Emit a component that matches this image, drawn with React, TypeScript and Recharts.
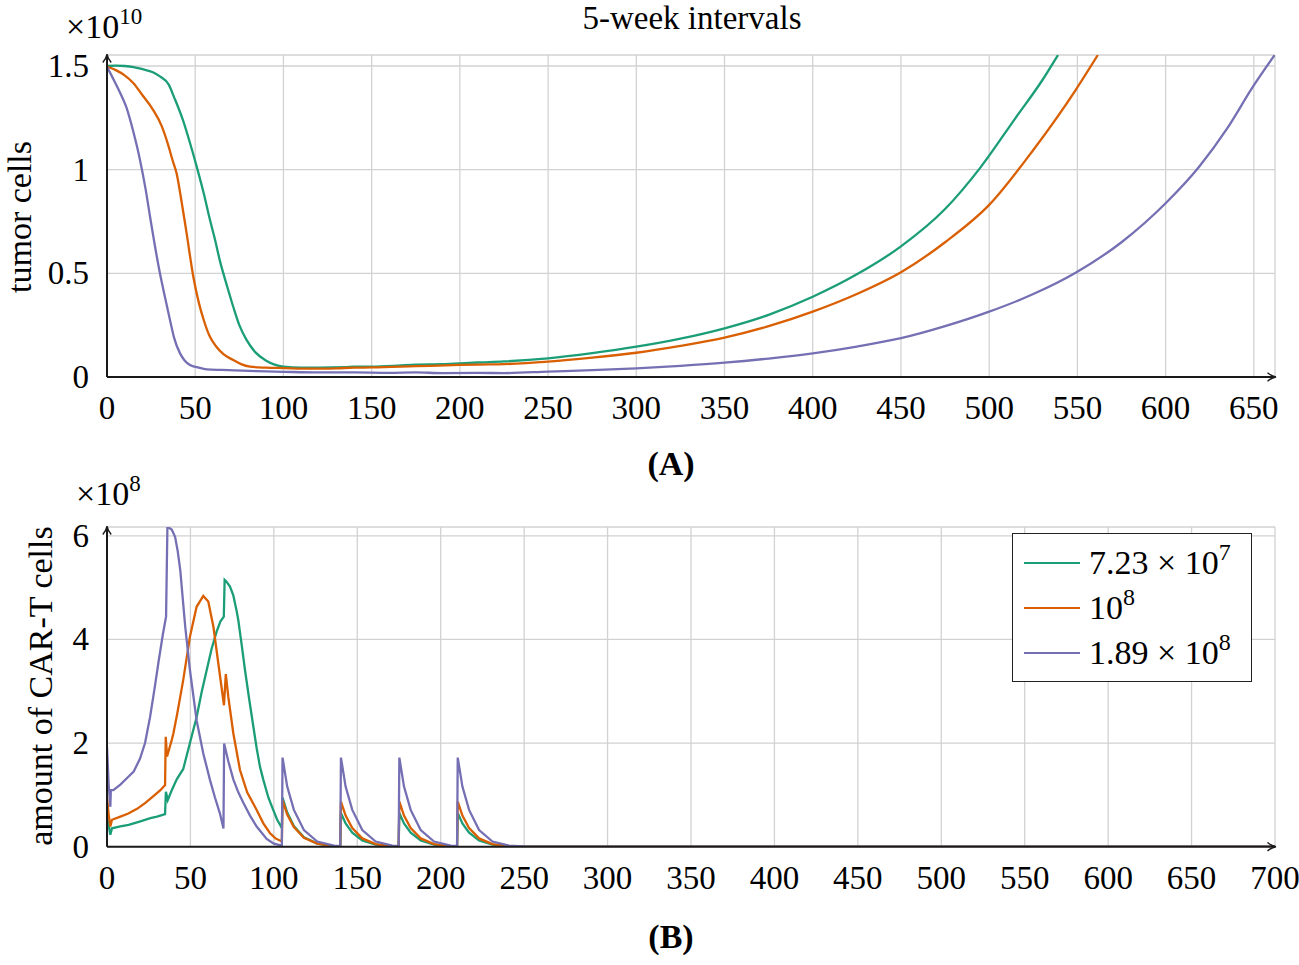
import { LineChart, Line, XAxis, YAxis, CartesianGrid, Legend } from 'recharts'

// panel A: tumor cells (units of 1e10), panel B: CAR-T cells (units of 1e8)
// every series is a list of [day, value] pairs

const tumorLowDose: [number, number][] = [
  [0, 1.5], [5, 1.502], [10, 1.5], [15, 1.495], [20, 1.485], [26, 1.47], [30, 1.45], [35, 1.41],
  [38, 1.35], [43, 1.24], [47, 1.13], [51, 1.01], [55, 0.88], [58, 0.77], [61, 0.67], [64, 0.56],
  [68, 0.44], [71.5, 0.34], [75, 0.25], [79, 0.18], [84, 0.12], [90, 0.08], [95, 0.06], [100, 0.05],
  [110, 0.045], [120, 0.045], [135, 0.047], [140, 0.05], [150, 0.05], [165, 0.055], [175, 0.06],
  [190, 0.062], [200, 0.066], [210, 0.07], [225, 0.075], [250, 0.09], [275, 0.115], [300, 0.146],
  [325, 0.185], [350, 0.235], [375, 0.3], [400, 0.387], [425, 0.495], [450, 0.63], [475, 0.81],
  [495, 1.01], [515, 1.25], [530, 1.43], [539, 1.553],
]

const tumorMidDose: [number, number][] = [
  [0, 1.497], [5, 1.48], [10, 1.455], [15, 1.417], [20, 1.36], [26, 1.29], [31, 1.21], [35, 1.11],
  [37, 1.05], [39.5, 0.98], [42, 0.86], [45, 0.7], [49, 0.48], [52, 0.36], [55, 0.27], [58, 0.2],
  [62, 0.146], [66, 0.11], [71.5, 0.082], [76, 0.062], [81, 0.05], [90, 0.045], [100, 0.043],
  [115, 0.04], [130, 0.042], [140, 0.045], [150, 0.046], [175, 0.052], [200, 0.058], [210, 0.06],
  [225, 0.062], [250, 0.074], [275, 0.093], [300, 0.117], [325, 0.15], [350, 0.19], [375, 0.245],
  [400, 0.315], [425, 0.4], [450, 0.505], [475, 0.65], [500, 0.83], [525, 1.095], [549, 1.384],
  [561.6, 1.553],
]

const tumorHighDose: [number, number][] = [
  [0, 1.497], [4, 1.43], [8, 1.36], [11, 1.3], [15, 1.18], [18.7, 1.047], [22, 0.9], [24.4, 0.773],
  [27, 0.64], [30, 0.5], [33, 0.38], [35.7, 0.275], [38, 0.19], [41.4, 0.114], [44, 0.08], [47, 0.058],
  [52, 0.045], [56.5, 0.037], [65, 0.034], [72, 0.032], [85, 0.028], [100, 0.025], [120, 0.022],
  [140, 0.022], [160, 0.02], [175, 0.022], [190, 0.019], [210, 0.02], [225, 0.019], [250, 0.026],
  [275, 0.033], [300, 0.042], [325, 0.054], [350, 0.069], [375, 0.089], [400, 0.114], [425, 0.147],
  [450, 0.187], [475, 0.245], [500, 0.315], [525, 0.4], [549, 0.503], [575, 0.65], [600, 0.838],
  [619, 1.014], [635, 1.2], [649.5, 1.4], [661.8, 1.553],
]

const carLowDose: [number, number][] = [
  [0, 0.58], [1, 0.42], [2, 0.23], [3, 0.355], [8, 0.39], [13, 0.42], [20, 0.49], [26, 0.55],
  [30, 0.58], [34.8, 0.63], [35.3, 1.06], [36.4, 0.9], [38.8, 1.09], [41.8, 1.3], [45.7, 1.5],
  [49.7, 2.0], [53.7, 2.5], [56.7, 2.98], [59.7, 3.4], [62.7, 3.82], [65.7, 4.15], [68, 4.35],
  [70, 4.44], [70.5, 5.15], [71.5, 5.12], [73.7, 5.02], [75.7, 4.85], [77.7, 4.55], [78.7, 4.37],
  [80.7, 3.9], [82.7, 3.41], [85.2, 2.85], [87.7, 2.32], [89.7, 1.9], [91.7, 1.54], [93.7, 1.29],
  [96.7, 0.95], [99.6, 0.71], [102, 0.52], [104.8, 0.36], [105.2, 0.95], [108, 0.66], [112, 0.4],
  [118, 0.18], [126, 0.06], [135, 0.012], [139.8, 0.005], [140.2, 0.65], [143, 0.45], [147, 0.27],
  [153, 0.12], [161, 0.04], [170, 0.01], [174.8, 0.005], [175.2, 0.65], [178, 0.45], [182, 0.27],
  [188, 0.12], [196, 0.04], [205, 0.01], [209.8, 0.005], [210.2, 0.65], [213, 0.45], [217, 0.27],
  [223, 0.12], [231, 0.04], [240, 0.01], [250, 0.002], [300, 0], [700, 0],
]

const carMidDose: [number, number][] = [
  [0, 0.96], [1, 0.62], [2, 0.39], [3, 0.52], [8, 0.58], [12.8, 0.64], [18, 0.73], [22.8, 0.84],
  [28, 0.98], [32, 1.09], [34.8, 1.19], [35.2, 2.12], [36, 1.74], [38.8, 2.06], [39.8, 2.19],
  [42, 2.55], [45.7, 3.22], [49.7, 4.05], [53.7, 4.63], [57.7, 4.84], [60.7, 4.73], [63.8, 4.24],
  [66.7, 3.54], [70.1, 2.73], [71.2, 3.33], [72.7, 2.89], [75.7, 2.19], [79.7, 1.48], [84, 1.05],
  [89.7, 0.71], [93.7, 0.45], [97.7, 0.26], [101, 0.16], [104.8, 0.1], [105.2, 0.9], [108, 0.62],
  [112, 0.38], [118, 0.17], [126, 0.06], [135, 0.015], [139.8, 0.008], [140.2, 0.87], [143, 0.6],
  [147, 0.36], [153, 0.16], [161, 0.05], [170, 0.013], [174.8, 0.008], [175.2, 0.87], [178, 0.6],
  [182, 0.36], [188, 0.16], [196, 0.05], [205, 0.013], [209.8, 0.008], [210.2, 0.87], [213, 0.6],
  [217, 0.36], [223, 0.16], [231, 0.05], [240, 0.013], [250, 0.003], [300, 0], [700, 0],
]

const carHighDose: [number, number][] = [
  [0, 1.93], [1, 1.2], [2, 0.77], [2.3, 1.09], [3.8, 1.09], [8, 1.2], [12.8, 1.35], [16, 1.45],
  [19.8, 1.7], [22.8, 2.0], [25.8, 2.5], [28.5, 3.05], [30.8, 3.55], [33.5, 4.1], [35.4, 4.44],
  [36.2, 6.17], [38.8, 6.12], [40.8, 5.98], [42.4, 5.7], [43.9, 5.34], [46.9, 4.24], [49.7, 3.41],
  [53.7, 2.44], [57.7, 1.8], [61.7, 1.29], [64.7, 0.95], [67.7, 0.64], [69.8, 0.35], [70.2, 1.99],
  [72.7, 1.65], [75.7, 1.3], [78.7, 1.05], [81.7, 0.85], [85.7, 0.6], [89.7, 0.39], [95.7, 0.15],
  [100, 0.06], [104.8, 0.02], [105.2, 1.72], [108, 1.16], [112, 0.71], [118, 0.32], [126, 0.1],
  [136, 0.02], [139.8, 0.01], [140.2, 1.72], [143, 1.16], [147, 0.71], [153, 0.32], [161, 0.1],
  [171, 0.02], [174.8, 0.01], [175.2, 1.72], [178, 1.16], [182, 0.71], [188, 0.32], [196, 0.1],
  [206, 0.02], [209.8, 0.01], [210.2, 1.72], [213, 1.16], [217, 0.71], [223, 0.32], [231, 0.1],
  [241, 0.02], [250, 0.005], [300, 0], [700, 0],
]

const tumorTicksX = [0, 50, 100, 150, 200, 250, 300, 350, 400, 450, 500, 550, 600, 650]
const tumorTicksY = [0, 0.5, 1, 1.5]
const carTicksX = [0, 50, 100, 150, 200, 250, 300, 350, 400, 450, 500, 550, 600, 650, 700]
const carTicksY = [0, 2, 4, 6]

// legend entries, keyed by series name
const doseLabels: Record<string, { base: string; exp: string }> = {
  dose1: { base: '7.23 × 10', exp: '7' },
  dose2: { base: '10', exp: '8' },
  dose3: { base: '1.89 × 10', exp: '8' },
}
const doseOrder = ['dose1', 'dose2', 'dose3']

const GREEN = '#1b9e77'
const ORANGE = '#d95f02'
const PURPLE = '#7570b3'
const FONT = '"Liberation Serif", "Times New Roman", serif'

const toPoints = (arr: [number, number][]) => arr.map(([x, y]) => ({ x, y }))

const axisLineX = { stroke: '#1a1a1a', strokeWidth: 2, markerEnd: 'url(#axisArrow)' }
const axisLineY = { stroke: '#1a1a1a', strokeWidth: 2, markerStart: 'url(#axisArrow)' }

const XTick = ({ x, y, payload }: any) => (
  <text x={x} y={y} dy={23} textAnchor="middle" fontSize={33} fontFamily={FONT} fill="#000">
    {payload.value}
  </text>
)

const YTick = ({ x, y, payload }: any) => (
  <text x={x} y={y} dy={11} textAnchor="end" fontSize={33} fontFamily={FONT} fill="#000">
    {payload.value}
  </text>
)

const DoseLegend = ({ payload }: any) => {
  const entries = doseOrder
    .map((name) => (payload || []).find((p: any) => p.value === name))
    .filter(Boolean)
  return (
    <div
      style={{
        width: 240,
        height: 149,
        boxSizing: 'border-box',
        border: '1.5px solid #222',
        background: '#fff',
        paddingTop: 6,
        fontFamily: FONT,
      }}
    >
      {entries.map((entry: any) => (
        <div key={entry.value} style={{ height: 45, display: 'flex', alignItems: 'center', fontSize: 34, lineHeight: 1 }}>
          <div style={{ width: 56, borderTop: `2.5px solid ${entry.color}`, marginLeft: 11, marginRight: 9 }} />
          <span>
            {doseLabels[entry.value].base}
            <span style={{ fontSize: 24, position: 'relative', top: -14 }}>{doseLabels[entry.value].exp}</span>
          </span>
        </div>
      ))}
    </div>
  )
}

export default function App() {
  return (
    <div
      style={{
        position: 'absolute',
        left: 0,
        top: 0,
        width: 1299,
        height: 965,
        background: '#fff',
        fontFamily: FONT,
      }}
    >
      <svg width={0} height={0} style={{ position: 'absolute' }}>
        <defs>
          <marker
            id="axisArrow"
            viewBox="0 0 10 10"
            refX={8}
            refY={5}
            markerWidth={10}
            markerHeight={10}
            markerUnits="userSpaceOnUse"
            orient="auto-start-reverse"
          >
            <path d="M0.5,0.8 Q4.5,4.2 9,5 Q4.5,5.8 0.5,9.2" fill="none" stroke="#1a1a1a" strokeWidth={1.4} />
          </marker>
        </defs>
      </svg>

      <div style={{ position: 'absolute', left: 0, top: 0 }}>
        <LineChart width={1299} height={480} margin={{ top: 55, right: 24, bottom: 63, left: 47 }}>
          <CartesianGrid stroke="#d2d2d2" strokeWidth={1.3} />
          <XAxis
            type="number"
            dataKey="x"
            domain={[0, 662]}
            ticks={tumorTicksX}
            allowDataOverflow
            interval={0}
            height={40}
            tickLine={false}
            tickSize={0}
            tickMargin={19}
            axisLine={axisLineX}
            tick={<XTick />}
          />
          <YAxis
            type="number"
            domain={[0, 1.553]}
            ticks={tumorTicksY}
            allowDataOverflow
            interval={0}
            width={60}
            tickLine={false}
            tickSize={0}
            tickMargin={18}
            axisLine={axisLineY}
            tick={<YTick />}
          />
          <Line type="monotone" data={toPoints(tumorLowDose)} dataKey="y" stroke={GREEN} strokeWidth={2.3} dot={false} isAnimationActive={false} />
          <Line type="monotone" data={toPoints(tumorMidDose)} dataKey="y" stroke={ORANGE} strokeWidth={2.3} dot={false} isAnimationActive={false} />
          <Line type="monotone" data={toPoints(tumorHighDose)} dataKey="y" stroke={PURPLE} strokeWidth={2.3} dot={false} isAnimationActive={false} />
        </LineChart>
      </div>

      <div style={{ position: 'absolute', left: 0, top: 480 }}>
        <LineChart width={1299} height={485} margin={{ top: 47, right: 24, bottom: 78.3, left: 47 }}>
          <CartesianGrid stroke="#d2d2d2" strokeWidth={1.3} />
          <XAxis
            type="number"
            dataKey="x"
            domain={[0, 700]}
            ticks={carTicksX}
            allowDataOverflow
            interval={0}
            height={40}
            tickLine={false}
            tickSize={0}
            tickMargin={19}
            axisLine={axisLineX}
            tick={<XTick />}
          />
          <YAxis
            type="number"
            domain={[0, 6.17]}
            ticks={carTicksY}
            allowDataOverflow
            interval={0}
            width={60}
            tickLine={false}
            tickSize={0}
            tickMargin={18}
            axisLine={axisLineY}
            tick={<YTick />}
          />
          <Line data={toPoints(carLowDose)} dataKey="y" name="dose1" stroke={GREEN} strokeWidth={2.3} dot={false} isAnimationActive={false} />
          <Line data={toPoints(carMidDose)} dataKey="y" name="dose2" stroke={ORANGE} strokeWidth={2.3} dot={false} isAnimationActive={false} />
          <Line data={toPoints(carHighDose)} dataKey="y" name="dose3" stroke={PURPLE} strokeWidth={2.3} dot={false} isAnimationActive={false} />
          <Legend
            layout="vertical"
            align="center"
            verticalAlign="middle"
            content={<DoseLegend />}
            wrapperStyle={{ left: 1012, top: 53, width: 240, height: 149 }}
          />
        </LineChart>
      </div>

      <svg
        width={1299}
        height={965}
        style={{ position: 'absolute', left: 0, top: 0, pointerEvents: 'none' }}
        fontFamily={FONT}
        fill="#000"
      >
        <text x={692} y={29} fontSize={33} textAnchor="middle">5-week intervals</text>
        <text x={66} y={38} fontSize={34}>
          ×10<tspan dy={-14} fontSize={23}>10</tspan>
        </text>
        <text x={31} y={217} fontSize={34} textAnchor="middle" transform="rotate(-90 31 217)">tumor cells</text>
        <text x={671} y={475} fontSize={34} fontWeight="bold" textAnchor="middle">(A)</text>
        <text x={76} y={505} fontSize={34}>
          ×10<tspan dy={-14} fontSize={23}>8</tspan>
        </text>
        <text x={52} y={686} fontSize={34} textAnchor="middle" transform="rotate(-90 52 686)">amount of CAR-T cells</text>
        <text x={671} y={948} fontSize={34} fontWeight="bold" textAnchor="middle">(B)</text>
      </svg>
    </div>
  )
}
